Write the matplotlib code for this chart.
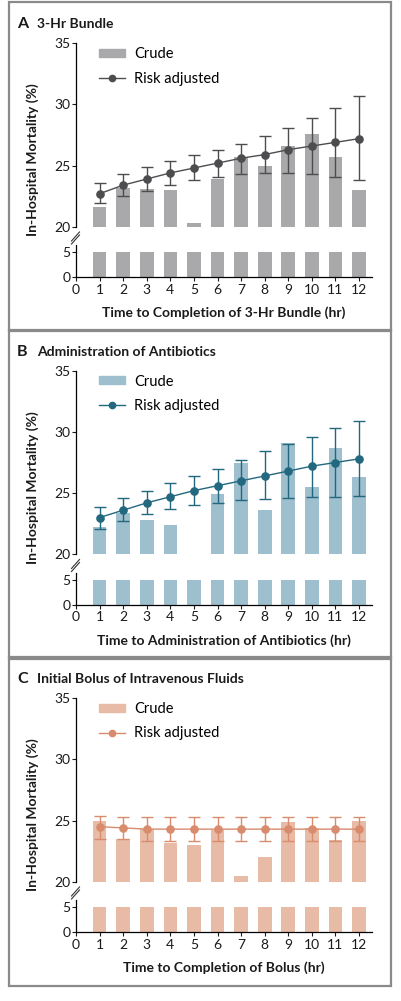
import matplotlib
matplotlib.use("Agg")
import matplotlib.pyplot as plt
from matplotlib.patches import Patch, Rectangle
from matplotlib.lines import Line2D

W, H = 401, 1001

hours = list(range(1, 13))
x_ticks = list(range(0, 13))

# A: 3-hr bundle
bundle_crude = [21.6, 23.2, 23.1, 23.0, 20.3, 23.9, 25.7, 25.0, 26.6, 27.6, 25.7, 23.0]
bundle_adj = [22.7, 23.4, 23.9, 24.4, 24.8, 25.2, 25.6, 25.9, 26.3, 26.6, 26.9, 27.2]
bundle_lo = [21.9, 22.5, 22.9, 23.4, 23.8, 24.1, 24.3, 24.4, 24.4, 24.3, 24.1, 23.8]
bundle_hi = [23.6, 24.3, 24.9, 25.4, 25.9, 26.3, 26.8, 27.4, 28.1, 28.9, 29.7, 30.7]

# B: antibiotics
abx_crude = [22.2, 23.4, 22.8, 22.4, 20.0, 24.9, 27.5, 23.6, 29.1, 25.5, 28.7, 26.3]
abx_adj = [23.0, 23.6, 24.2, 24.7, 25.2, 25.6, 26.0, 26.4, 26.8, 27.2, 27.5, 27.8]
abx_lo = [22.1, 22.7, 23.3, 23.7, 24.0, 24.2, 24.4, 24.5, 24.6, 24.7, 24.7, 24.8]
abx_hi = [23.9, 24.6, 25.2, 25.8, 26.4, 27.0, 27.7, 28.4, 29.0, 29.6, 30.3, 30.9]

# C: fluid bolus
bolus_crude = [25.0, 23.5, 24.3, 23.2, 23.0, 24.2, 20.5, 22.0, 24.9, 24.4, 23.4, 25.0]
bolus_adj = [24.5, 24.4, 24.3, 24.3, 24.3, 24.3, 24.3, 24.3, 24.3, 24.3, 24.3, 24.3]
bolus_lo = [23.5, 23.5, 23.3, 23.3, 23.3, 23.3, 23.3, 23.3, 23.3, 23.3, 23.3, 23.3]
bolus_hi = [25.4, 25.3, 25.3, 25.3, 25.3, 25.3, 25.3, 25.3, 25.3, 25.3, 25.3, 25.3]

low_bar = 5  # crude bars continue below the axis break

plt.rcParams["font.family"] = ["Lato", "DejaVu Sans"]
FRAME = "#8a8a8a"
TEXT = "#1a1a1a"


def px_axes(fig, left, top, width, height):
    return fig.add_axes([left / W, 1 - (top + height) / H, width / W, height / H])


def draw_panel(fig, off, letter, title, xlabel, crude, adj, lo, hi, bar_col, line_col):
    # panel frame
    fig.add_artist(Rectangle((9 / W, 1 - (off + 331) / H), 382 / W, 329 / H,
                             transform=fig.transFigure, fill=False,
                             edgecolor=FRAME, linewidth=1.6))

    top = px_axes(fig, 76, off + 43.3, 296, 183.4)
    bot = px_axes(fig, 76, off + 245, 296, 32.3)

    err_lo = [a - l for a, l in zip(adj, lo)]
    err_hi = [h - a for a, h in zip(adj, hi)]

    top.bar(hours, [c - 20 for c in crude], bottom=20, width=0.58, color=bar_col, zorder=1)
    top.errorbar(hours, adj, yerr=[err_lo, err_hi], fmt="-o", color=line_col,
                 markersize=5.2, linewidth=1.0, elinewidth=1.0, capsize=4.2,
                 capthick=1.0, zorder=3)
    bot.bar(hours, [low_bar] * len(hours), width=0.58, color=bar_col)

    for ax in (top, bot):
        ax.set_xlim(0, 12.55)
        ax.spines["top"].set_visible(False)
        ax.spines["right"].set_visible(False)
        ax.tick_params(axis="y", length=3, width=0.8, pad=1, labelsize=10,
                       colors=TEXT)
        ax.spines["left"].set_linewidth(0.9)
        ax.patch.set_alpha(0)

    top.set_ylim(20, 35)
    top.set_yticks([20, 25, 30, 35])
    top.spines["bottom"].set_visible(False)
    top.set_xticks([])

    bot.set_ylim(0, 6.46)
    bot.set_yticks([0, 5])
    bot.set_xticks(x_ticks)
    bot.spines["bottom"].set_linewidth(0.9)
    bot.tick_params(axis="x", length=3, width=0.8, pad=1.5, labelsize=10, colors=TEXT)

    # axis break marks
    for dy in (0, 3):
        fig.add_artist(Line2D([71.5 / W, 79.5 / W],
                              [1 - (off + 241 + dy) / H, 1 - (off + 232 + dy) / H],
                              transform=fig.transFigure, color="#333333", linewidth=0.8))

    fig.text(17 / W, 1 - (off + 24) / H, letter, fontsize=11.5, fontweight="bold",
             va="center", ha="left", color=TEXT)
    fig.text(37 / W, 1 - (off + 24) / H, title, fontsize=10, fontweight="bold",
             va="center", ha="left", color=TEXT)
    fig.text(224 / W, 1 - (off + 313) / H, xlabel, fontsize=10, fontweight="bold",
             va="center", ha="center", color=TEXT)
    fig.text(33 / W, 1 - (off + 160) / H, "In-Hospital Mortality (%)", fontsize=10,
             fontweight="bold", rotation=90, va="center", ha="center", color=TEXT)

    handles = [Patch(color=bar_col),
               Line2D([], [], color=line_col, marker="o", markersize=4.5, linewidth=1.0)]
    top.legend(handles, ["Crude", "Risk adjusted"], loc="upper left",
               bbox_to_anchor=(99 / W, 1 - (off + 47) / H),
               bbox_transform=fig.transFigure, frameon=False, fontsize=10.5,
               handlelength=1.8, handleheight=0.45, handletextpad=0.6,
               labelspacing=0.72, borderpad=0, borderaxespad=0)


fig = plt.figure(figsize=(W / 100, H / 100), dpi=100)

draw_panel(fig, 0, "A", "3-Hr Bundle", "Time to Completion of 3-Hr Bundle (hr)",
           bundle_crude, bundle_adj, bundle_lo, bundle_hi, "#a9a9ab", "#4d4d4f")
draw_panel(fig, 327.5, "B", "Administration of Antibiotics",
           "Time to Administration of Antibiotics (hr)",
           abx_crude, abx_adj, abx_lo, abx_hi, "#9ebfcd", "#22687e")
draw_panel(fig, 655, "C", "Initial Bolus of Intravenous Fluids",
           "Time to Completion of Bolus (hr)",
           bolus_crude, bolus_adj, bolus_lo, bolus_hi, "#e8bba7", "#d98b6e")

fig.savefig("out.png", dpi=100)
